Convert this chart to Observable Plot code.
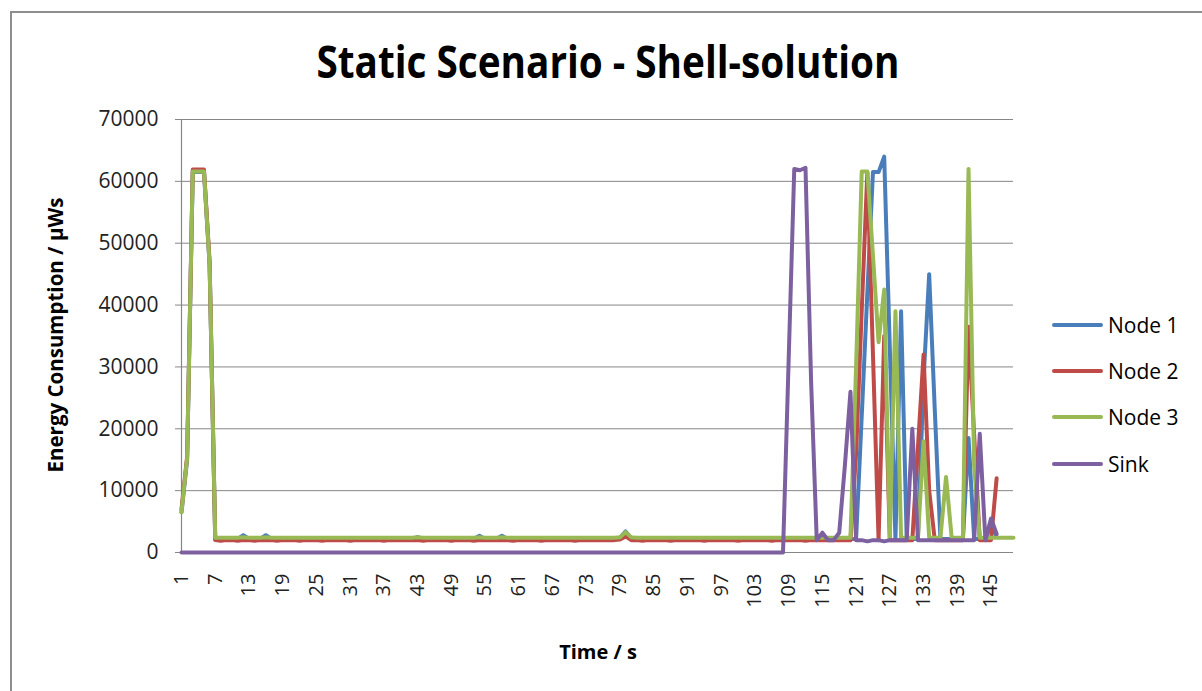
<!DOCTYPE html>
<html>
<head>
<meta charset="utf-8">
<script src="https://cdn.jsdelivr.net/npm/d3@7"></script>
<script src="https://cdn.jsdelivr.net/npm/@observablehq/plot@0.6"></script>
<style>
  html, body { margin: 0; padding: 0; background: #fff; }
  #wrap { position: relative; width: 1202px; height: 691px; overflow: hidden; font-family: "Open Sans", sans-serif; color: #000; }
  #frame { position: absolute; left: 10px; top: 11px; width: 1300px; height: 800px; border-top: 2px solid #8e8e8e; border-left: 2px solid #8e8e8e; box-sizing: border-box; }
  #title { position: absolute; left: 0; width: 1202px; top: 34px; text-align: center; font-weight: 700; font-size: 45px; line-height: 54px; }
  #title span { display: inline-block; transform: scaleX(0.86); transform-origin: 50% 50%; margin-left: 14px; }
  #plot { position: absolute; left: 0; top: 100px; }
  .axt { position: absolute; font-weight: 700; font-size: 20px; line-height: 24px; white-space: nowrap; }
  #xlab { left: 498px; width: 200px; top: 640px; text-align: center; }
  #ylab { left: 55px; top: 335px; font-size: 20.5px; transform: translate(-50%, -50%) rotate(-90deg); }
  .leg { position: absolute; left: 1052px; height: 30px; display: flex; align-items: center; font-size: 21px; }
  .sw { width: 51px; height: 4px; border-radius: 2px; margin-right: 5px; }
</style>
</head>
<body>
<div id="wrap">
  <div id="frame"></div>
  <div id="title"><span>Static Scenario - Shell-solution</span></div>
  <div id="plot"></div>
  <div class="axt" id="xlab">Time / s</div>
  <div class="axt" id="ylab">Energy Consumption / μWs</div>
  <div id="legend"></div>
</div>
<script>
const seriesNames = ["Node 1", "Node 2", "Node 3", "Sink"];
const seriesColors = ["#4a7ebb", "#be4b48", "#98b954", "#7d60a0"];
const yTicks = [0, 10000, 20000, 30000, 40000, 50000, 60000, 70000];
const xTicks = [1, 7, 13, 19, 25, 31, 37, 43, 49, 55, 61, 67, 73, 79, 85, 91, 97, 103, 109, 115, 121, 127, 133, 139, 145];

const node1 = [6500,15000,61500,61500,61500,46500,2200,2200,2200,2200,
 2200,2800,2200,2200,2200,2800,2200,2200,2200,2200,
 2200,2200,2200,2200,2200,2200,2200,2200,2200,2200,
 2200,2200,2200,2200,2200,2200,2200,2200,2200,2200,
 2200,2200,2500,2200,2200,2200,2200,2200,2200,2200,
 2200,2200,2200,2700,2200,2200,2200,2700,2200,2200,
 2200,2200,2200,2200,2200,2200,2200,2200,2200,2200,
 2200,2200,2200,2200,2200,2200,2200,2200,2400,3400,
 2300,2200,2200,2200,2200,2200,2200,2200,2200,2200,
 2200,2200,2200,2200,2200,2200,2200,2200,2200,2200,
 2200,2200,2200,2200,2200,2200,2200,2200,2200,2200,
 2200,2200,2200,2200,2200,2200,2200,2200,2200,2200,
 2200,22000,42000,61500,61500,64000,33000,2200,39000,2200,
 2200,2200,28000,45000,23000,2200,2200,2200,2200,2200,
 18500,2200,2200,2200,4500,2500];

const node2 = [7000,15500,61900,61900,61900,47000,2000,1900,2000,2000,
 1900,2000,2000,1900,2000,2000,2000,1900,2000,2000,
 2000,1900,2000,2000,2000,1900,2000,2000,2000,2000,
 1900,2000,2000,2000,2000,2000,1900,2000,2000,2000,
 2000,2000,2000,1900,2000,2000,2000,2000,1900,2000,
 2000,2000,1900,2000,2000,2000,2000,2000,2000,1900,
 2000,2000,2000,2000,1900,2000,2000,2000,2000,2000,
 1900,2000,2000,2000,2000,2000,2000,2000,2100,2600,
 2000,2000,1900,2000,2000,2000,2000,1900,2000,2000,
 2000,2000,2000,1900,2000,2000,2000,2000,2000,1900,
 2000,2000,2000,2000,2000,1900,2000,2000,2000,2000,
 2000,1900,2000,2000,2000,2000,2000,2000,2000,2000,
 16000,39000,61500,32000,2000,35000,2000,2000,2000,2000,
 2000,17000,32000,10000,2000,2000,2000,2000,2000,2000,
 36500,19000,2000,2000,2000,12000];

const node3 = [6500,15300,61600,61600,61600,46500,2400,2400,2400,2400,
 2400,2450,2400,2400,2400,2450,2400,2400,2400,2400,
 2400,2400,2400,2400,2400,2400,2400,2400,2400,2400,
 2400,2400,2400,2400,2400,2400,2400,2400,2400,2400,
 2400,2400,2450,2400,2400,2400,2400,2400,2400,2400,
 2400,2400,2400,2450,2400,2400,2400,2450,2400,2400,
 2400,2400,2400,2400,2400,2400,2400,2400,2400,2400,
 2400,2400,2400,2400,2400,2400,2400,2400,2450,3300,
 2450,2400,2400,2400,2400,2400,2400,2400,2400,2400,
 2400,2400,2400,2400,2400,2400,2400,2400,2400,2400,
 2400,2400,2400,2400,2400,2400,2400,2400,2400,2400,
 2400,2400,2400,2400,2400,2400,2400,2400,2400,2400,
 30000,61600,61600,48000,34000,42500,2400,39000,2400,2400,
 2400,2400,18000,2400,2400,2400,12200,2400,2400,2400,
 62000,14000,2400,2400,2400,2400,2400,2400,2400];

const sink = [0,0,0,0,0,0,0,0,0,0,
 0,0,0,0,0,0,0,0,0,0,
 0,0,0,0,0,0,0,0,0,0,
 0,0,0,0,0,0,0,0,0,0,
 0,0,0,0,0,0,0,0,0,0,
 0,0,0,0,0,0,0,0,0,0,
 0,0,0,0,0,0,0,0,0,0,
 0,0,0,0,0,0,0,0,0,0,
 0,0,0,0,0,0,0,0,0,0,
 0,0,0,0,0,0,0,0,0,0,
 0,0,0,0,0,0,0,0,31000,62000,
 61800,62200,27500,2000,3200,2000,2000,3200,14000,26000,
 2000,2000,1800,2000,2000,1800,2000,2000,2000,2000,
 20000,2000,2000,2000,2000,2000,2000,2000,2000,2000,
 2000,2000,19200,2000,5500,3000];

const seriesValues = [node1, node2, node3, sink];
const rows = [];
seriesValues.forEach((vals, k) => {
  vals.forEach((v, i) => rows.push({t: i + 1, v, s: seriesNames[k]}));
});

const gridColor = "#868686";
const chart = Plot.plot({
  width: 1030,
  height: 591,
  marginLeft: 181,
  marginRight: 17,
  marginTop: 19,
  marginBottom: 139,
  style: {fontFamily: "'Open Sans', sans-serif", color: "#000", background: "transparent", overflow: "visible"},
  x: {type: "linear", domain: [1, 149]},
  y: {domain: [0, 70000]},
  color: {domain: seriesNames, range: seriesColors},
  marks: [
    Plot.ruleY(yTicks.filter(d => d > 0), {stroke: gridColor, strokeWidth: 1}),
    Plot.ruleY([0], {stroke: gridColor, strokeWidth: 1.2}),
    Plot.ruleX([1], {stroke: gridColor, strokeWidth: 1.2}),
    Plot.axisY({ticks: yTicks, tickSize: 6, tickPadding: 17, tickFormat: d => String(d), fontSize: 21, label: null, stroke: gridColor, fill: "#222"}),
    Plot.axisX({ticks: xTicks, tickSize: 0, tickPadding: 21, tickRotate: -90, tickFormat: d => String(d), fontSize: 20, label: null, fill: "#222"}),
    Plot.line(rows, {x: "t", y: "v", z: "s", stroke: "s", strokeWidth: 4, strokeLinejoin: "round", strokeLinecap: "round"})
  ]
});
document.getElementById("plot").appendChild(chart);

const legendTops = [310, 356, 402, 449];
const legend = document.getElementById("legend");
seriesNames.forEach((name, k) => {
  const item = document.createElement("div");
  item.className = "leg";
  item.style.top = legendTops[k] + "px";
  const sw = document.createElement("div");
  sw.className = "sw";
  sw.style.background = seriesColors[k];
  const tx = document.createElement("span");
  tx.textContent = name;
  item.appendChild(sw);
  item.appendChild(tx);
  legend.appendChild(item);
});
</script>
</body>
</html>
